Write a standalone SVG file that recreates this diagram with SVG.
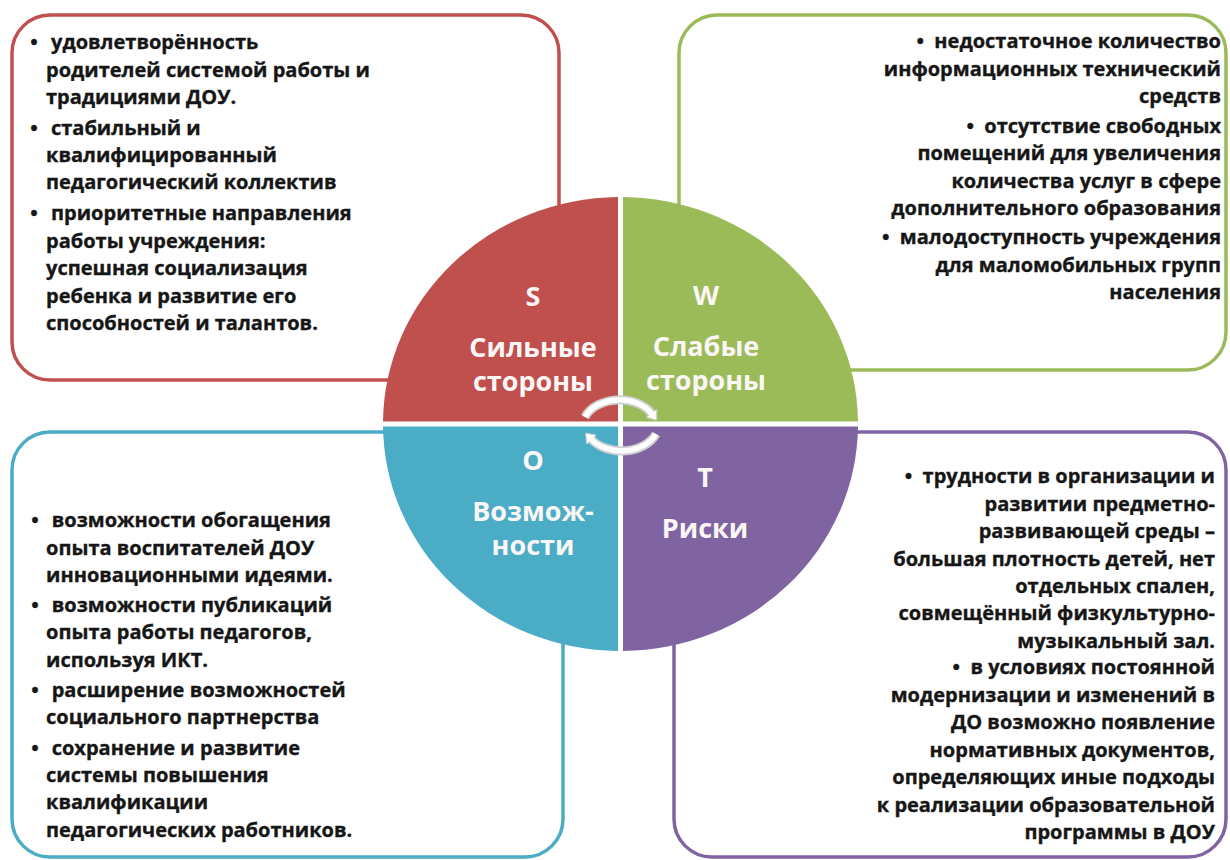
<svg xmlns="http://www.w3.org/2000/svg" width="1230" height="860" viewBox="0 0 1230 860">
<style>
.box{fill:#fff;stroke-width:3.5}
.t{font-family:"Open Sans","Liberation Sans",sans-serif;font-weight:700;font-size:20px;fill:#161616;stroke:#161616;stroke-width:0.35}
.r{text-anchor:end}
.b{text-anchor:middle}
.lbl{font-family:"Open Sans","Liberation Sans",sans-serif;font-weight:700;font-size:27px;fill:#fbf7f7;text-anchor:middle}
.arcO{fill:none;stroke:#cfcfcf;stroke-width:9}
.arcI{fill:none;stroke:#ffffff;stroke-width:5.5}
</style>
<defs>
<marker id="ah" viewBox="0 0 8 12" refX="1" refY="6" markerWidth="9" markerHeight="14" markerUnits="userSpaceOnUse" orient="auto">
<path d="M0,0 L8,6 L0,12 Z" fill="#fff" stroke="#cfcfcf" stroke-width="1"/>
</marker>
</defs>
<rect width="1230" height="860" fill="#fff"/>

<g id="box-s">
<rect class="box" x="12" y="15" width="547" height="365" rx="38" stroke="#c0504d"/>
<text class="t b" x="34" y="49.3">•</text>
<text class="t" x="51" y="49.3">удовлетворённость</text>
<text class="t" x="46" y="77.3">родителей системой работы и</text>
<text class="t" x="46" y="104.3">традициями ДОУ.</text>
<text class="t b" x="34" y="135">•</text>
<text class="t" x="51" y="135">стабильный и</text>
<text class="t" x="46" y="161.7">квалифицированный</text>
<text class="t" x="46" y="189.3">педагогический коллектив</text>
<text class="t b" x="34" y="220">•</text>
<text class="t" x="51" y="220">приоритетные направления</text>
<text class="t" x="46" y="247.7">работы учреждения:</text>
<text class="t" x="46" y="275">успешная социализация</text>
<text class="t" x="46" y="302.7">ребенка и развитие его</text>
<text class="t" x="46" y="330">способностей и талантов.</text>
</g>

<g id="box-w">
<rect class="box" x="679" y="15" width="547" height="355" rx="38" stroke="#9bbb59"/>
<text class="t r" x="1221" y="48.3">•&#160; недостаточное количество</text>
<text class="t r" x="1221" y="76">информационных технический</text>
<text class="t r" x="1221" y="103.3">средств</text>
<text class="t r" x="1221" y="132.7">•&#160; отсутствие свободных</text>
<text class="t r" x="1221" y="160">помещений для увеличения</text>
<text class="t r" x="1221" y="188.3">количества услуг в сфере</text>
<text class="t r" x="1221" y="215">дополнительного образования</text>
<text class="t r" x="1221" y="244.3">•&#160; малодоступность учреждения</text>
<text class="t r" x="1221" y="271.7">для маломобильных групп</text>
<text class="t r" x="1221" y="299.3">населения</text>
</g>

<g id="box-o">
<rect class="box" x="12" y="432" width="551" height="425" rx="38" stroke="#4bacc6"/>
<text class="t b" x="35" y="527.3">•</text>
<text class="t" x="51.7" y="527.3">возможности обогащения</text>
<text class="t" x="46" y="555">опыта воспитателей ДОУ</text>
<text class="t" x="46" y="581.7">инновационными идеями.</text>
<text class="t b" x="35" y="611.7">•</text>
<text class="t" x="51.7" y="611.7">возможности публикаций</text>
<text class="t" x="46" y="639.3">опыта работы педагогов,</text>
<text class="t" x="46" y="666.7">используя ИКТ.</text>
<text class="t b" x="35" y="696.7">•</text>
<text class="t" x="51.7" y="696.7">расширение возможностей</text>
<text class="t" x="46" y="724.3">социального партнерства</text>
<text class="t b" x="35" y="755">•</text>
<text class="t" x="51.7" y="755">сохранение и развитие</text>
<text class="t" x="46" y="781.7">системы повышения</text>
<text class="t" x="46" y="809.3">квалификации</text>
<text class="t" x="46" y="836.7">педагогических работников.</text>
</g>

<g id="box-t">
<rect class="box" x="674" y="432" width="552" height="425" rx="38" stroke="#8064a2"/>
<text class="t r" x="1215" y="483.3">•&#160; трудности в организации и</text>
<text class="t r" x="1215" y="511">развитии предметно-</text>
<text class="t r" x="1215" y="538">развивающей среды –</text>
<text class="t r" x="1215" y="566">большая плотность детей, нет</text>
<text class="t r" x="1215" y="592.7">отдельных спален,</text>
<text class="t r" x="1215" y="620">совмещённый физкультурно-</text>
<text class="t r" x="1215" y="647.7">музыкальный зал.</text>
<text class="t r" x="1215" y="674.3">•&#160; в условиях постоянной</text>
<text class="t r" x="1215" y="702.3">модернизации и изменений в</text>
<text class="t r" x="1215" y="729.3">ДО возможно появление</text>
<text class="t r" x="1215" y="756.7">нормативных документов,</text>
<text class="t r" x="1215" y="784.3">определяющих иные подходы</text>
<text class="t r" x="1215" y="811.7">к реализации образовательной</text>
<text class="t r" x="1215" y="839.3">программы в ДОУ</text>
</g>

<g id="q-s">
<path d="M618,421.5 L618,197 A237.5,227 0 0 0 383,421.5 Z" fill="#c0504d"/>
<text class="lbl" x="533" y="306">S</text>
<text class="lbl" x="533" y="357">Сильные</text>
<text class="lbl" x="533" y="391">стороны</text>
</g>
<g id="q-w">
<path d="M623,421.5 L623,197 A237.5,227 0 0 1 858,421.5 Z" fill="#9bbb59"/>
<text class="lbl" x="706" y="305">W</text>
<text class="lbl" x="706" y="356">Слабые</text>
<text class="lbl" x="706" y="390">стороны</text>
</g>
<g id="q-o">
<path d="M618,426.5 L383,426.5 A237.5,227 0 0 0 618,651 Z" fill="#4bacc6"/>
<text class="lbl" x="533" y="470">O</text>
<text class="lbl" x="533" y="521">Возмож-</text>
<text class="lbl" x="533" y="555">ности</text>
</g>
<g id="q-t">
<path d="M623,426.5 L858,426.5 A237.5,227 0 0 1 623,651 Z" fill="#8064a2"/>
<text class="lbl" x="705" y="487">T</text>
<text class="lbl" x="705" y="538">Риски</text>
</g>

<g id="connectors">
<path class="arcO" d="M585,417 A37,27 0 0 1 652,414" marker-end="url(#ah)"/>
<path class="arcI" d="M585,417 A37,27 0 0 1 652,414"/>
<path class="arcO" d="M656,434 A37,27 0 0 1 591,439" marker-end="url(#ah)"/>
<path class="arcI" d="M656,434 A37,27 0 0 1 591,439"/>
</g>
</svg>
